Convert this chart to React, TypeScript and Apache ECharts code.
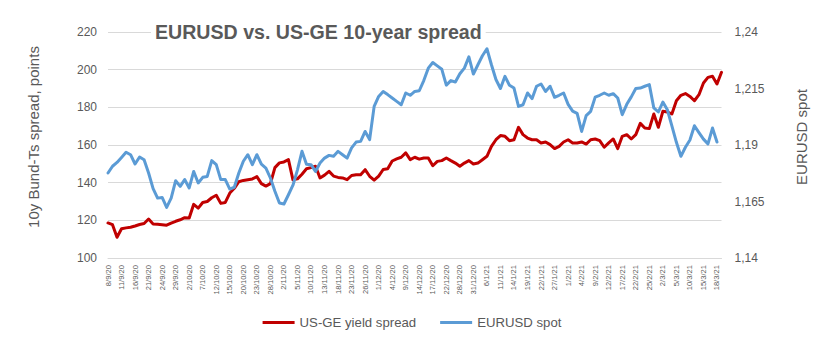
import React, { useEffect, useRef } from "react";
import * as echarts from "echarts";

// Business days 8/9/20 .. 19/3/21 (Christmas and New Year skipped)
const startDate = "2020-09-08";
const pointCount = 137;
const holidays = ["2020-12-25", "2021-01-01"];

function buildDates(start: string, count: number): string[] {
  const out: string[] = [];
  const d = new Date(start + "T00:00:00Z");
  while (out.length < count) {
    const dow = d.getUTCDay();
    const iso = d.toISOString().slice(0, 10);
    if (dow !== 0 && dow !== 6 && holidays.indexOf(iso) < 0) {
      out.push(`${d.getUTCDate()}/${d.getUTCMonth() + 1}/${String(d.getUTCFullYear()).slice(2)}`);
    }
    d.setUTCDate(d.getUTCDate() + 1);
  }
  return out;
}

const dates = buildDates(startDate, pointCount);

const spreadValues = [
  118.6, 117.7, 111.0, 115.5, 116.0, 116.3, 117.0, 117.8, 118.3, 120.7,
  118.1, 117.9, 117.7, 117.4, 118.5, 119.5, 120.3, 121.4, 121.2, 128.5,
  126.5, 129.5, 130.0, 132.0, 133.3, 129.0, 129.5, 134.5, 137.0, 140.5,
  141.2, 141.6, 142.0, 143.2, 139.5, 138.2, 139.5, 148.0, 150.5, 151.0,
  152.2, 141.5, 142.0, 144.5, 147.4, 148.0, 148.7, 142.5, 144.0, 146.0,
  143.5, 142.8, 142.5, 141.6, 143.8, 144.2, 144.2, 146.9, 143.4, 141.3,
  143.5, 147.0, 147.4, 151.5, 152.6, 153.5, 155.8, 152.2, 153.5, 152.5,
  153.1, 153.1, 149.0, 151.3, 151.7, 153.1, 151.7, 150.4, 148.7, 150.4,
  151.7, 149.9, 150.4, 152.2, 154.0, 159.3, 162.8, 165.0, 164.6, 162.3,
  162.8, 169.4, 165.5, 163.7, 162.8, 162.8, 161.1, 161.6, 160.2, 158.1,
  159.3, 161.6, 162.8, 161.1, 161.1, 161.6, 160.5, 162.8, 163.2, 162.3,
  158.8, 161.1, 163.2, 158.1, 164.6, 165.5, 163.2, 165.5, 171.5, 169.0,
  168.7, 176.5, 169.4, 177.9, 177.5, 176.5, 183.5, 186.4, 187.3, 185.8,
  183.5, 186.7, 192.9, 195.9, 196.5, 192.4, 198.6,
];

const eurusdValues = [
  1.1776, 1.1806, 1.1823, 1.1845, 1.1868, 1.1857, 1.1816, 1.1847, 1.1835, 1.1776,
  1.1707, 1.1665, 1.1668, 1.1624, 1.1665, 1.1742, 1.1717, 1.1747, 1.1710, 1.1783,
  1.1732, 1.1757, 1.1761, 1.1831, 1.1813, 1.1747, 1.1747, 1.1705, 1.1713, 1.1776,
  1.1828, 1.1857, 1.1813, 1.1857, 1.1815, 1.1798, 1.1754, 1.1695, 1.1643, 1.1639,
  1.1680, 1.1722, 1.1790, 1.1872, 1.1815, 1.1813, 1.1783, 1.1820, 1.1842, 1.1854,
  1.1850, 1.1872, 1.1857, 1.1842, 1.1887, 1.1913, 1.1916, 1.1960, 1.1924, 1.2071,
  1.2115, 1.2137, 1.2123, 1.2108, 1.2093, 1.2078, 1.2130, 1.2120, 1.2137, 1.2140,
  1.2185, 1.2240, 1.2265, 1.2250, 1.2235, 1.2165, 1.2185, 1.2179, 1.2215, 1.2240,
  1.2290, 1.2214, 1.2255, 1.2295, 1.2326, 1.2255, 1.2190, 1.2150, 1.2204, 1.2164,
  1.2152, 1.2071, 1.2078, 1.2130, 1.2105, 1.2160, 1.2170, 1.2137, 1.2160, 1.2111,
  1.2120, 1.2130, 1.2080, 1.2050, 1.2040, 1.1960, 1.2030, 1.2049, 1.2112, 1.2120,
  1.2130, 1.2120, 1.2127, 1.2108, 1.2034, 1.2080, 1.2113, 1.2150, 1.2152, 1.2160,
  1.2167, 1.2064, 1.2046, 1.2090, 1.2056, 1.1985, 1.1912, 1.1850, 1.1890, 1.1922,
  1.1985, 1.1955, 1.1926, 1.1905, 1.1975, 1.1913,
];

const seriesNames = ["US-GE yield spread", "EURUSD spot"];
const titleText = "EURUSD vs. US-GE 10-year spread";
const leftAxisTitle = "10y Bund-Ts spread, points";
const rightAxisTitle = "EURUSD spot";

const FONT = "'Liberation Sans', Arial, sans-serif";
const GREY = "#595959";

export default function App() {
  const ref = useRef<HTMLDivElement>(null);

  useEffect(() => {
    if (!ref.current) return;
    const chart = echarts.init(ref.current, undefined, { renderer: "svg" });
    chart.setOption({
      animation: false,
      backgroundColor: "#ffffff",
      textStyle: { fontFamily: FONT },
      title: {
        text: titleText,
        left: 151,
        top: 18,
        padding: [2, 4],
        backgroundColor: "#ffffff",
        textStyle: { fontSize: 19.6, fontWeight: "bold", color: GREY, fontFamily: FONT, lineHeight: 24 },
      },
      grid: { left: 108, right: 102.5, top: 32, bottom: 87, containLabel: false },
      legend: {
        data: seriesNames,
        left: "center",
        top: 311,
        icon: "rect",
        itemWidth: 32,
        itemHeight: 3,
        itemGap: 24,
        textStyle: { fontSize: 13.2, color: GREY, fontFamily: FONT },
      },
      xAxis: {
        type: "category",
        data: dates,
        boundaryGap: false,
        axisLine: { show: true, lineStyle: { color: "#d9d9d9", width: 1 } },
        axisTick: { show: false },
        axisLabel: {
          interval: 2,
          rotate: 90,
          fontSize: 7.6,
          color: GREY,
          margin: 7,
          fontFamily: FONT,
        },
      },
      yAxis: [
        {
          type: "value",
          min: 100,
          max: 220,
          interval: 20,
          axisLine: { show: false },
          axisTick: { show: false },
          splitLine: { show: true, lineStyle: { color: "#d9d9d9", width: 1 } },
          axisLabel: { fontSize: 12, color: GREY, margin: 11, fontFamily: FONT },
        },
        {
          type: "value",
          min: 1.14,
          max: 1.24,
          interval: 0.025,
          position: "right",
          axisLine: { show: false },
          axisTick: { show: false },
          splitLine: { show: false },
          axisLabel: {
            fontSize: 12,
            color: GREY,
            margin: 13,
            fontFamily: FONT,
            formatter: (v: number) => String(Number(v.toFixed(3))).replace(".", ","),
          },
        },
      ],
      graphic: [
        {
          type: "text",
          x: 33,
          y: 137,
          rotation: Math.PI / 2,
          style: {
            text: leftAxisTitle,
            fontSize: 15,
            fill: GREY,
            fontFamily: FONT,
            textAlign: "center",
            textVerticalAlign: "middle",
          },
        },
        {
          type: "text",
          x: 801,
          y: 137,
          rotation: Math.PI / 2,
          style: {
            text: rightAxisTitle,
            fontSize: 15,
            fill: GREY,
            fontFamily: FONT,
            textAlign: "center",
            textVerticalAlign: "middle",
          },
        },
      ],
      series: [
        {
          name: seriesNames[0],
          type: "line",
          yAxisIndex: 0,
          data: spreadValues,
          symbol: "none",
          color: "#C00000",
          lineStyle: { width: 3, color: "#C00000", cap: "round", join: "round" },
        },
        {
          name: seriesNames[1],
          type: "line",
          yAxisIndex: 1,
          data: eurusdValues,
          symbol: "none",
          color: "#5B9BD5",
          lineStyle: { width: 3, color: "#5B9BD5", cap: "round", join: "round" },
        },
      ],
    });
    return () => chart.dispose();
  }, []);

  return (
    <div
      ref={ref}
      style={{ position: "fixed", left: 0, top: 0, width: 824, height: 345, background: "#fff" }}
    />
  );
}
